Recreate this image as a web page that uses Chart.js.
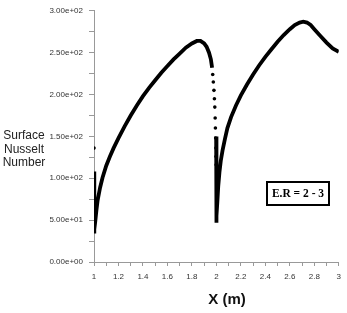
<!DOCTYPE html>
<html>
<head>
    <meta charset="UTF-8">
    <title>Surface Nusselt Number</title>
    <script src="https://cdn.jsdelivr.net/npm/chart.js"></script>
    <style>
        body {
            margin: 0;
            background-color: #fff;
        }
        #box {
            position: relative;
            width: 347px;
            height: 313px;
        }
    </style>
</head>
<body>
    <div id="box">
        <canvas id="nuChart"></canvas>
    </div>

    <script>
        // first arc: vertical jump at x = 1 then rise up to the peak
        const riseX  = [1.000, 1.000, 1.001, 1.003, 1.006, 1.01, 1.02, 1.03, 1.05, 1.07, 1.10, 1.13, 1.16, 1.20, 1.25, 1.30, 1.35, 1.40, 1.45, 1.50, 1.55, 1.60, 1.65, 1.70, 1.75, 1.80, 1.84, 1.87, 1.90, 1.92, 1.94, 1.955, 1.965];
        const riseNu = [108, 60, 36, 34, 39, 48, 62, 74, 89, 101, 115, 126, 136, 148, 162, 175, 187, 198, 208, 217, 226, 234, 242, 249, 256, 261, 264, 264, 261, 257, 250, 242, 232];

        // loose dots of the sharp fall near x = 2 (and the lone dot at x = 1)
        const dotX  = [1.000, 1.970, 1.975, 1.980, 1.984, 1.987, 1.990, 1.992, 1.994, 1.996, 1.997, 1.998];
        const dotNu = [136, 224, 215, 205, 195, 185, 172, 160, 148, 136, 126, 116];

        // second arc: bottom at x = 2 then rise to the second peak
        const secondX  = [1.998, 1.999, 2.000, 2.003, 2.008, 2.015, 2.025, 2.036, 2.05, 2.07, 2.09, 2.12, 2.16, 2.20, 2.25, 2.30, 2.35, 2.40, 2.45, 2.50, 2.55, 2.60, 2.64, 2.68, 2.71, 2.74, 2.77, 2.80, 2.85, 2.90, 2.95, 3.00];
        const secondNu = [150, 100, 47, 55, 72, 90, 107, 121, 133, 147, 160, 173, 187, 199, 212, 224, 235, 245, 254, 263, 271, 278, 283, 286, 287, 286, 283, 278, 270, 262, 255, 251];

        const yTitleLines = ['Surface', 'Nusselt', 'Number'];
        const xTitle = 'X (m)';
        const boxLabel = 'E.R = 2 - 3';

        // pairs the x and y arrays for the scatter/line datasets
        function toPoints(xs, ys) {
            return xs.map((x, i) => ({ x: x, y: ys[i] }));
        }

        // 3.00e+02 style labels
        function sciLabel(v) {
            return v.toExponential(2).replace(/e([+-])(\d)$/, 'e$10$2');
        }

        // texts that sit outside the normal Chart.js places
        const extraText = {
            id: 'extraText',
            afterDraw(chart) {
                const ctx = chart.ctx;
                ctx.save();
                ctx.fillStyle = '#222';
                ctx.textAlign = 'center';
                ctx.textBaseline = 'middle';
                ctx.font = '12px "Liberation Sans", Arial, sans-serif';
                yTitleLines.forEach((t, i) => ctx.fillText(t, 24, 136 + i * 13.5));

                ctx.fillStyle = '#111';
                ctx.font = 'bold 15px "Liberation Sans", Arial, sans-serif';
                ctx.fillText(xTitle, 227, 300);

                // framed label
                ctx.lineWidth = 2;
                ctx.strokeStyle = '#000';
                ctx.strokeRect(267, 182, 62, 23);
                ctx.fillStyle = '#000';
                ctx.font = 'bold 11.5px "Liberation Serif", "Times New Roman", serif';
                ctx.fillText(boxLabel, 298, 194);
                ctx.restore();
            }
        };

        const ctx = document.getElementById('nuChart').getContext('2d');
        new Chart(ctx, {
            type: 'scatter',
            data: {
                datasets: [
                    {
                        data: toPoints(riseX, riseNu),
                        showLine: true,
                        borderColor: '#000',
                        borderWidth: 3.8,
                        pointRadius: 0,
                        tension: 0
                    },
                    {
                        data: toPoints(dotX, dotNu),
                        showLine: false,
                        backgroundColor: '#000',
                        borderColor: '#000',
                        pointRadius: 1.8,
                        borderWidth: 0
                    },
                    {
                        data: toPoints(secondX, secondNu),
                        showLine: true,
                        borderColor: '#000',
                        borderWidth: 3.8,
                        pointRadius: 0,
                        tension: 0
                    }
                ]
            },
            options: {
                responsive: true,
                maintainAspectRatio: false,
                animation: false,
                layout: { padding: { top: 8, right: 4, left: 0, bottom: 0 } },
                plugins: {
                    legend: { display: false },
                    tooltip: { enabled: false }
                },
                scales: {
                    x: {
                        min: 1,
                        max: 3,
                        afterFit: (scale) => { scale.height = 51; },
                        border: { display: true, color: '#999' },
                        grid: { drawOnChartArea: false, drawTicks: true, tickLength: 4, color: '#999' },
                        ticks: {
                            stepSize: 0.1,
                            autoSkip: false,
                            maxRotation: 0,
                            padding: 6,
                            color: '#333',
                            font: { family: '"Liberation Sans", Arial, sans-serif', size: 8 },
                            callback: (v) => {
                                const k = Math.round(v * 10);
                                return k % 2 === 0 ? String(k / 10) : '';
                            }
                        }
                    },
                    y: {
                        min: 0,
                        max: 300,
                        afterFit: (scale) => { scale.width = 94; },
                        border: { display: true, color: '#999' },
                        grid: { drawOnChartArea: false, drawTicks: true, tickLength: 5, color: '#999' },
                        ticks: {
                            stepSize: 25,
                            autoSkip: false,
                            padding: 6,
                            color: '#333',
                            font: { family: '"Liberation Sans", Arial, sans-serif', size: 8 },
                            callback: (v) => (v % 50 === 0 ? sciLabel(v) : '')
                        }
                    }
                }
            },
            plugins: [extraText]
        });
    </script>
</body>
</html>
